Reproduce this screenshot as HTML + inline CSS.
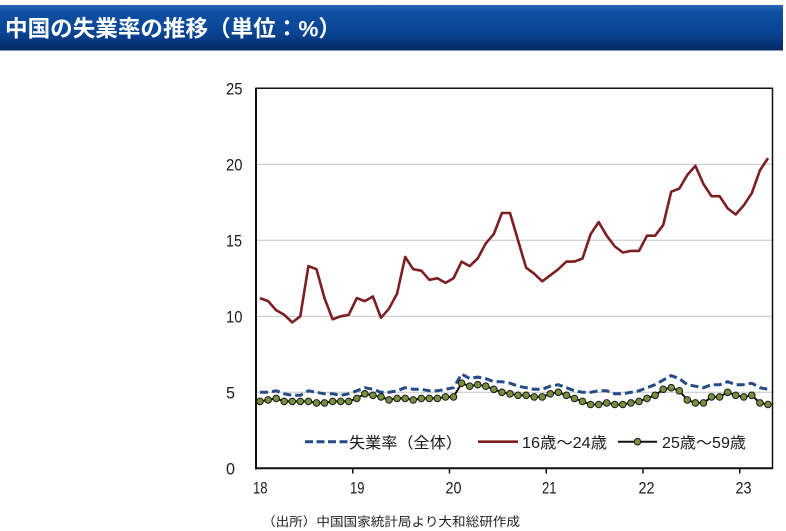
<!DOCTYPE html>
<html><head><meta charset="utf-8">
<style>
html,body{margin:0;padding:0;background:#fff;}
svg{display:block;}
text{font-family:"Liberation Sans","Noto Sans CJK JP",sans-serif;}
</style></head>
<body>
<svg width="786" height="531" viewBox="0 0 786 531" xmlns="http://www.w3.org/2000/svg">
<defs>
<linearGradient id="tb" x1="0" y1="0" x2="0" y2="1">
<stop offset="0" stop-color="#2b68b6"/>
<stop offset="0.15" stop-color="#0e50a2"/>
<stop offset="0.6" stop-color="#0a4595"/>
<stop offset="1" stop-color="#032a64"/>
</linearGradient>
</defs>
<rect x="0" y="0" width="786" height="531" fill="#fff"/>
<rect x="0" y="5" width="783" height="45.5" fill="url(#tb)"/>
<text x="5" y="36.5" font-size="22.5" font-weight="bold" fill="#fff" textLength="336" lengthAdjust="spacingAndGlyphs">中国の失業率の推移（単位：%）</text>

<!-- gridlines -->
<g stroke="#c4c4c4" stroke-width="1">
<line x1="256" y1="164.3" x2="772" y2="164.3"/>
<line x1="256" y1="240.3" x2="772" y2="240.3"/>
<line x1="256" y1="316.3" x2="772" y2="316.3"/>
<line x1="256" y1="392.3" x2="772" y2="392.3"/>
</g>
<!-- border -->
<line x1="256" y1="88.3" x2="772.5" y2="88.3" stroke="#111" stroke-width="1.5"/>
<line x1="772.5" y1="87.6" x2="772.5" y2="468.3" stroke="#111" stroke-width="1.5"/>
<line x1="256" y1="87.6" x2="256" y2="469.5" stroke="#111" stroke-width="2"/>
<line x1="255" y1="468.3" x2="773.2" y2="468.3" stroke="#111" stroke-width="2"/>
<g stroke="#111" stroke-width="1.5">
<line x1="352.75" y1="468" x2="352.75" y2="473.5"/>
<line x1="449.5" y1="468" x2="449.5" y2="473.5"/>
<line x1="546.25" y1="468" x2="546.25" y2="473.5"/>
<line x1="643" y1="468" x2="643" y2="473.5"/>
<line x1="739.75" y1="468" x2="739.75" y2="473.5"/>
</g>

<!-- y labels -->
<g font-size="17" fill="#1a1a1a">
<text x="226" y="94.4" textLength="16.5" lengthAdjust="spacingAndGlyphs">25</text>
<text x="226" y="170.4" textLength="16.5" lengthAdjust="spacingAndGlyphs">20</text>
<text x="226" y="246.4" textLength="16" lengthAdjust="spacingAndGlyphs">15</text>
<text x="226" y="322.4" textLength="16.5" lengthAdjust="spacingAndGlyphs">10</text>
<text x="226" y="398.4" textLength="9" lengthAdjust="spacingAndGlyphs">5</text>
<text x="226" y="474.4" textLength="9" lengthAdjust="spacingAndGlyphs">0</text>
</g>
<!-- x labels -->
<g font-size="17" fill="#1a1a1a">
<text x="253" y="493.5" textLength="14.5" lengthAdjust="spacingAndGlyphs">18</text>
<text x="350" y="493.5" textLength="14.5" lengthAdjust="spacingAndGlyphs">19</text>
<text x="445.5" y="493.5" textLength="16" lengthAdjust="spacingAndGlyphs">20</text>
<text x="542" y="493.5" textLength="14.5" lengthAdjust="spacingAndGlyphs">21</text>
<text x="638.5" y="493.5" textLength="16" lengthAdjust="spacingAndGlyphs">22</text>
<text x="735.5" y="493.5" textLength="16" lengthAdjust="spacingAndGlyphs">23</text>
</g>

<!-- youth 16-24 -->
<polyline fill="none" stroke="#7b1f22" stroke-width="2.6" stroke-linejoin="round" points="260.0,298.1 268.1,301.1 276.2,310.2 284.2,314.8 292.3,322.4 300.3,316.3 308.4,266.1 316.5,269.2 324.5,298.1 332.6,319.3 340.7,316.3 348.7,314.8 356.8,298.1 364.8,301.1 372.9,296.5 381.0,317.8 389.0,308.7 397.1,293.5 405.2,257.0 413.2,269.2 421.3,270.7 429.3,279.8 437.4,278.3 445.5,282.9 453.5,278.3 461.6,261.6 469.7,266.1 477.7,258.5 485.8,243.3 493.8,234.2 501.9,213.0 510.0,213.0 518.0,240.3 526.1,267.7 534.2,273.7 542.2,281.3 550.3,275.3 558.3,269.2 566.4,261.6 574.5,261.6 582.5,258.5 590.6,234.2 598.7,222.1 606.7,235.7 614.8,246.4 622.8,252.5 630.9,250.9 639.0,250.9 647.0,235.7 655.1,235.7 663.2,225.1 671.2,191.7 679.3,188.6 687.3,175.0 695.4,165.8 703.5,184.1 711.5,196.2 719.6,196.2 727.7,208.4 735.7,214.5 743.8,205.3 751.8,193.2 759.9,170.4 768.0,158.2"/>

<!-- overall dashed -->
<polyline fill="none" stroke="#244c86" stroke-width="3" stroke-dasharray="8,4" stroke-linejoin="round" points="260.0,392.3 268.1,392.3 276.2,390.8 284.2,393.8 292.3,395.3 300.3,395.3 308.4,390.8 316.5,392.3 324.5,393.8 332.6,393.8 340.7,395.3 348.7,393.8 356.8,390.8 364.8,387.7 372.9,389.3 381.0,392.3 389.0,392.3 397.1,390.8 405.2,387.7 413.2,389.3 421.3,389.3 429.3,390.8 437.4,390.8 445.5,389.3 453.5,387.7 461.6,374.1 469.7,378.6 477.7,377.1 485.8,378.6 493.8,381.7 501.9,381.7 510.0,383.2 518.0,386.2 526.1,387.7 534.2,389.3 542.2,389.3 550.3,386.2 558.3,384.7 566.4,387.7 574.5,390.8 582.5,392.3 590.6,392.3 598.7,390.8 606.7,390.8 614.8,393.8 622.8,393.8 630.9,392.3 639.0,390.8 647.0,387.7 655.1,384.7 663.2,380.1 671.2,375.6 679.3,378.6 687.3,384.7 695.4,386.2 703.5,387.7 711.5,384.7 719.6,384.7 727.7,381.7 735.7,384.7 743.8,384.7 751.8,383.2 759.9,387.7 768.0,389.3"/>

<!-- 25-59 line -->
<polyline fill="none" stroke="#111" stroke-width="2" stroke-linejoin="round" points="260.0,401.4 268.1,399.9 276.2,398.4 284.2,401.4 292.3,401.4 300.3,401.4 308.4,401.4 316.5,402.9 324.5,402.9 332.6,401.4 340.7,401.4 348.7,401.4 356.8,398.4 364.8,393.8 372.9,395.3 381.0,396.9 389.0,399.9 397.1,398.4 405.2,398.4 413.2,399.9 421.3,398.4 429.3,398.4 437.4,398.4 445.5,396.9 453.5,396.9 461.6,383.2 469.7,386.2 477.7,384.7 485.8,386.2 493.8,389.3 501.9,392.3 510.0,393.8 518.0,395.3 526.1,395.3 534.2,396.9 542.2,396.9 550.3,393.8 558.3,392.3 566.4,395.3 574.5,398.4 582.5,401.4 590.6,404.5 598.7,404.5 606.7,402.9 614.8,404.5 622.8,404.5 630.9,402.9 639.0,401.4 647.0,398.4 655.1,395.3 663.2,389.3 671.2,387.7 679.3,390.8 687.3,399.9 695.4,402.9 703.5,402.9 711.5,396.9 719.6,396.9 727.7,392.3 735.7,395.3 743.8,396.9 751.8,395.3 759.9,402.9 768.0,404.5"/>
<g fill="#7a8f3c" stroke="#1a1a1a" stroke-width="1">
<circle cx="260.0" cy="401.4" r="3.3"/><circle cx="268.1" cy="399.9" r="3.3"/><circle cx="276.2" cy="398.4" r="3.3"/><circle cx="284.2" cy="401.4" r="3.3"/><circle cx="292.3" cy="401.4" r="3.3"/><circle cx="300.3" cy="401.4" r="3.3"/><circle cx="308.4" cy="401.4" r="3.3"/><circle cx="316.5" cy="402.9" r="3.3"/><circle cx="324.5" cy="402.9" r="3.3"/><circle cx="332.6" cy="401.4" r="3.3"/><circle cx="340.7" cy="401.4" r="3.3"/><circle cx="348.7" cy="401.4" r="3.3"/>
<circle cx="356.8" cy="398.4" r="3.3"/><circle cx="364.8" cy="393.8" r="3.3"/><circle cx="372.9" cy="395.3" r="3.3"/><circle cx="381.0" cy="396.9" r="3.3"/><circle cx="389.0" cy="399.9" r="3.3"/><circle cx="397.1" cy="398.4" r="3.3"/><circle cx="405.2" cy="398.4" r="3.3"/><circle cx="413.2" cy="399.9" r="3.3"/><circle cx="421.3" cy="398.4" r="3.3"/><circle cx="429.3" cy="398.4" r="3.3"/><circle cx="437.4" cy="398.4" r="3.3"/><circle cx="445.5" cy="396.9" r="3.3"/>
<circle cx="453.5" cy="396.9" r="3.3"/><circle cx="461.6" cy="383.2" r="3.3"/><circle cx="469.7" cy="386.2" r="3.3"/><circle cx="477.7" cy="384.7" r="3.3"/><circle cx="485.8" cy="386.2" r="3.3"/><circle cx="493.8" cy="389.3" r="3.3"/><circle cx="501.9" cy="392.3" r="3.3"/><circle cx="510.0" cy="393.8" r="3.3"/><circle cx="518.0" cy="395.3" r="3.3"/><circle cx="526.1" cy="395.3" r="3.3"/><circle cx="534.2" cy="396.9" r="3.3"/><circle cx="542.2" cy="396.9" r="3.3"/>
<circle cx="550.3" cy="393.8" r="3.3"/><circle cx="558.3" cy="392.3" r="3.3"/><circle cx="566.4" cy="395.3" r="3.3"/><circle cx="574.5" cy="398.4" r="3.3"/><circle cx="582.5" cy="401.4" r="3.3"/><circle cx="590.6" cy="404.5" r="3.3"/><circle cx="598.7" cy="404.5" r="3.3"/><circle cx="606.7" cy="402.9" r="3.3"/><circle cx="614.8" cy="404.5" r="3.3"/><circle cx="622.8" cy="404.5" r="3.3"/><circle cx="630.9" cy="402.9" r="3.3"/><circle cx="639.0" cy="401.4" r="3.3"/>
<circle cx="647.0" cy="398.4" r="3.3"/><circle cx="655.1" cy="395.3" r="3.3"/><circle cx="663.2" cy="389.3" r="3.3"/><circle cx="671.2" cy="387.7" r="3.3"/><circle cx="679.3" cy="390.8" r="3.3"/><circle cx="687.3" cy="399.9" r="3.3"/><circle cx="695.4" cy="402.9" r="3.3"/><circle cx="703.5" cy="402.9" r="3.3"/><circle cx="711.5" cy="396.9" r="3.3"/><circle cx="719.6" cy="396.9" r="3.3"/><circle cx="727.7" cy="392.3" r="3.3"/><circle cx="735.7" cy="395.3" r="3.3"/>
<circle cx="743.8" cy="396.9" r="3.3"/><circle cx="751.8" cy="395.3" r="3.3"/><circle cx="759.9" cy="402.9" r="3.3"/><circle cx="768.0" cy="404.5" r="3.3"/>
</g>

<!-- legend -->
<line x1="305" y1="441.7" x2="348" y2="441.7" stroke="#244c86" stroke-width="3" stroke-dasharray="8,3.5"/>
<text x="349" y="447.8" font-size="15.5" fill="#1a1a1a" textLength="113" lengthAdjust="spacingAndGlyphs">失業率（全体）</text>
<line x1="478" y1="441.7" x2="518" y2="441.7" stroke="#7b1f22" stroke-width="2.6"/>
<text x="522" y="447.8" font-size="15.5" fill="#1a1a1a" textLength="85" lengthAdjust="spacingAndGlyphs">16歳～24歳</text>
<line x1="618" y1="441.7" x2="657" y2="441.7" stroke="#111" stroke-width="2"/>
<circle cx="637.5" cy="441.7" r="3.3" fill="#7a8f3c" stroke="#1a1a1a" stroke-width="1"/>
<text x="662" y="447.8" font-size="15.5" fill="#1a1a1a" textLength="84" lengthAdjust="spacingAndGlyphs">25歳～59歳</text>

<!-- source -->
<text x="262" y="526" font-size="12.5" fill="#222" textLength="258" lengthAdjust="spacingAndGlyphs">（出所）中国国家統計局より大和総研作成</text>
</svg>
</body></html>
